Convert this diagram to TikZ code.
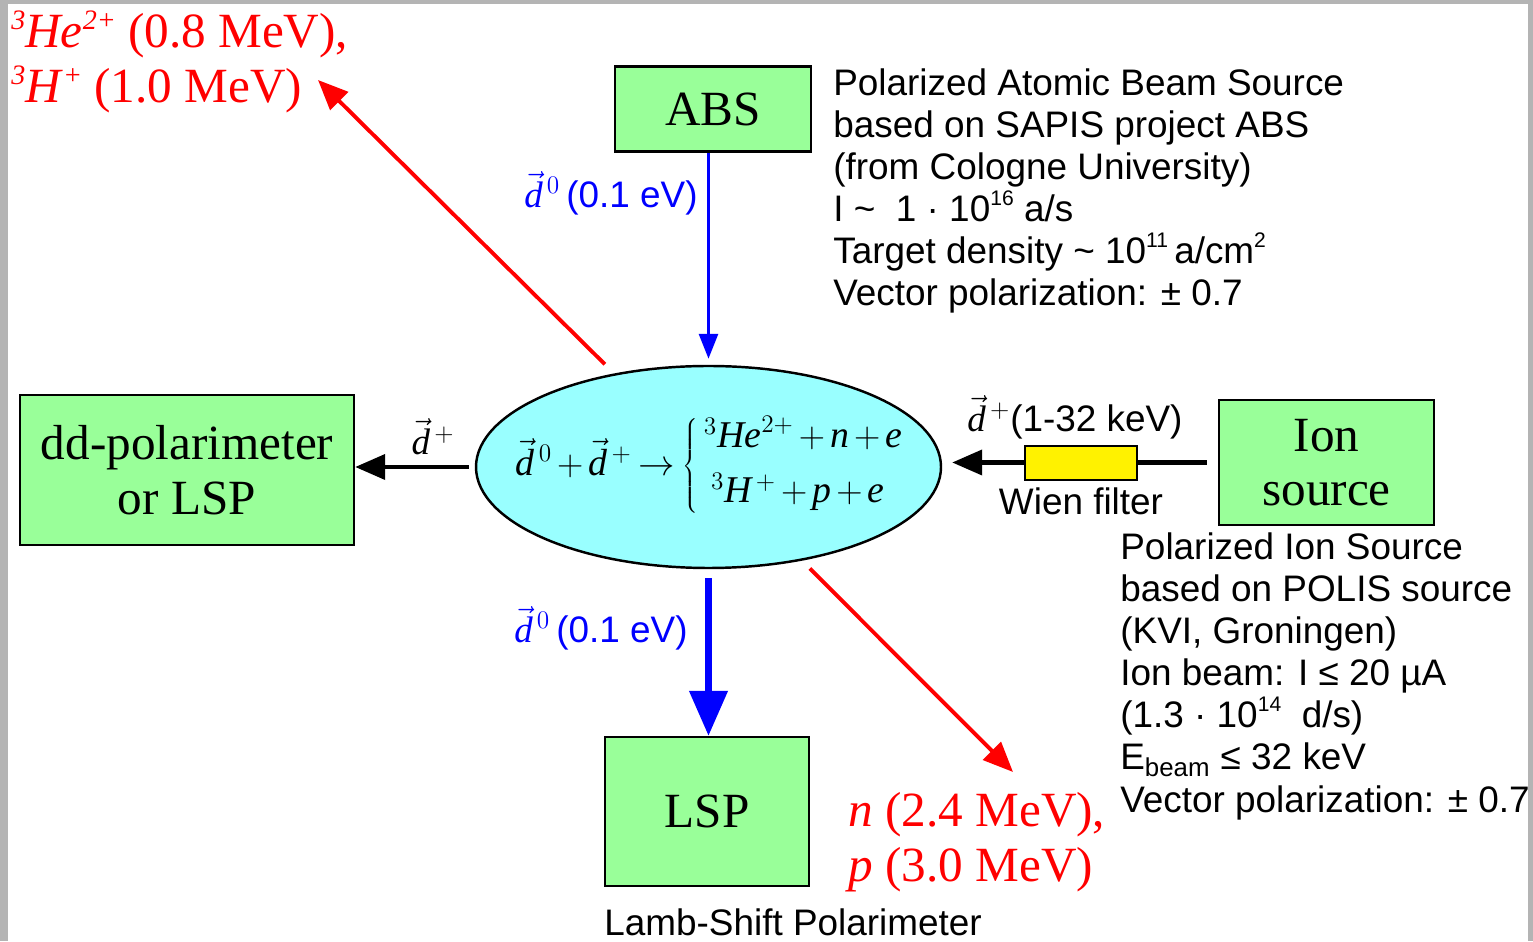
\documentclass[tikz,border=0pt]{standalone}
\usepackage{fontspec}
\setmainfont{Liberation Serif}
\setsansfont{Liberation Sans}
\usepackage{xcolor}
\usetikzlibrary{arrows.meta,positioning,shapes.geometric}

\definecolor{boxgreen}{RGB}{153,255,153}
\definecolor{targetcyan}{RGB}{153,255,255}
\definecolor{framegray}{RGB}{180,180,180}
\newcommand{\vd}{\vec{\mathit{d}}}
\newcommand{\up}[1]{\raisebox{0.85ex}{\fontsize{12}{12}\selectfont #1}}
\newcommand{\redup}[1]{\raisebox{0.8ex}{\fontsize{16}{16}\selectfont\itshape #1}}

\begin{document}
\begin{tikzpicture}[
    box/.style={draw,line width=1.4pt,fill=boxgreen,align=center,inner sep=0pt,
      font=\fontsize{28}{31}\selectfont},
    info/.style={anchor=west,align=left,inner sep=0pt,
      font=\sffamily\fontsize{21}{24}\selectfont},
    beamlabel/.style={inner sep=0pt,font=\sffamily\fontsize{21}{24}\selectfont},
    product/.style={anchor=west,align=left,inner sep=0pt,text=red,
      font=\fontsize{28}{31}\selectfont},
    ionbeam/.style={line width=2.3pt,-{Triangle[length=0.6cm,width=0.5cm]}},
    atombeam/.style={blue,line width=1.7pt,-{Triangle[length=0.5cm,width=0.38cm]}},
    fastbeam/.style={blue,line width=3.5pt,-{Triangle[length=0.9cm,width=0.75cm]}},
    ejectile/.style={red,line width=2.2pt,-{Triangle[length=0.6cm,width=0.5cm]}}
  ]
    \useasboundingbox (0,0) rectangle (30.66,18.82);
    % grey page frame
    \fill[framegray] (0,0) rectangle (0.16,18.82);
    \fill[framegray] (0,18.74) rectangle (30.66,18.82);
    \fill[framegray] (30.56,0) rectangle (30.66,18.82);

    % target cell with the reaction
    \node[ellipse,draw,line width=1.4pt,fill=targetcyan,minimum width=9.3cm,
      minimum height=4.04cm,inner sep=0pt] (ell) at (14.17,9.48) {};
    \node[inner sep=0pt,font=\fontsize{21.5}{26}\selectfont] (eq) at (14.2,9.5)
      {\medmuskip=2.5mu\thickmuskip=3.5mu
       $\vd^{\,0}+\vd^{\,+}\rightarrow\left\{\begin{array}{@{\,}l@{}}
        {}^3\mathit{He}^{2+}+\mathit{n}+\mathit{e}\\[5pt]
        \;{}^3\mathit{H}^{\,+}+\mathit{p}+\mathit{e}\end{array}\right.$};

    \node[box,minimum width=3.92cm,minimum height=1.70cm] (abs) at (14.26,16.64) {ABS};
    \node[box,minimum width=6.68cm,minimum height=3.0cm] (dd) at (3.74,9.42)
      {dd-polarimeter\\or LSP};
    \node[box,minimum width=4.3cm,minimum height=2.5cm] (ion) at (26.53,9.57)
      {Ion\\source};
    \node[box,minimum width=4.08cm,minimum height=2.98cm] (lsp) at (14.14,2.59) {LSP};

    % beams
    \draw[atombeam,shorten >=0.12cm] (abs.south -| ell.north) -- (ell.north);
    \node[beamlabel,anchor=east,text=blue] (d0top) at (13.96,14.96)
      {$\vd^{\,0}$\,(0.1 eV)};
    \draw[fastbeam,shorten <=0.18cm] (ell.south) -- (ell.south |- lsp.north);
    \node[beamlabel,anchor=east,text=blue] (d0bot) at (13.76,6.26)
      {$\vd^{\,0}$\,(0.1 eV)};
    \draw[ionbeam,shorten <=0.12cm] (ell.west) -- (ell.west -| dd.east);
    \node[beamlabel] (dpout) at (8.66,10.08) {$\vd^{\,+}$};
    \draw[ionbeam,shorten <=0.22cm,shorten >=0.2cm] (ion.west) -- (ion.west -| ell.east);
    \node[draw,line width=1pt,fill=yellow,minimum width=2.24cm,minimum height=0.68cm,
      inner sep=0pt] (wien) at (21.62,9.56) {};
    \node[beamlabel,below=0.14cm of wien] (wienlab) {Wien filter};
    \node[beamlabel] (dpin) at (21.5,10.48) {$\vd^{\,+}$(1-32 keV)};

    % reaction products
    \coordinate (hetip) at (6.36,17.22);
    \coordinate (ntip) at (20.26,3.38);
    \draw[ejectile,shorten <=0.26cm] (ell) -- (hetip);
    \draw[ejectile,shorten <=0.22cm] (ell) -- (ntip);
    \node[product] (helab) at (0.22,17.58)
      {\redup{3}\textit{He}\redup{2+} (0.8 MeV),\\
       \redup{3}\textit{H}\redup{+} (1.0 MeV)};
    \node[product] (nplab) at (16.96,1.98)
      {\textit{n} (2.4 MeV),\\\textit{p} (3.0 MeV)};

    % descriptions
    \node[info] (absinfo) at (16.66,15.0)
      {Polarized Atomic Beam Source\\
       based on SAPIS project ABS\\
       (from Cologne University)\\
       I \textasciitilde\ \ 1 · 10\up{16} a/s\\
       Target density \textasciitilde\ 10\up{11}\,a/cm\up{2}\\
       Vector polarization: ± 0.7};
    \node[info] (ioninfo) at (22.40,5.30)
      {Polarized Ion Source\\
       based on POLIS source\\
       (KVI, Groningen)\\
       Ion beam: I ≤ 20 µA\\
       (1.3 · 10\up{14}\ \ d/s)\\
       E\textsubscript{beam} ≤ 32 keV\\
       Vector polarization: ± 0.7};
    \node[info] (lspinfo) at (12.08,0.38) {Lamb-Shift Polarimeter};
  \end{tikzpicture}
\end{document}
